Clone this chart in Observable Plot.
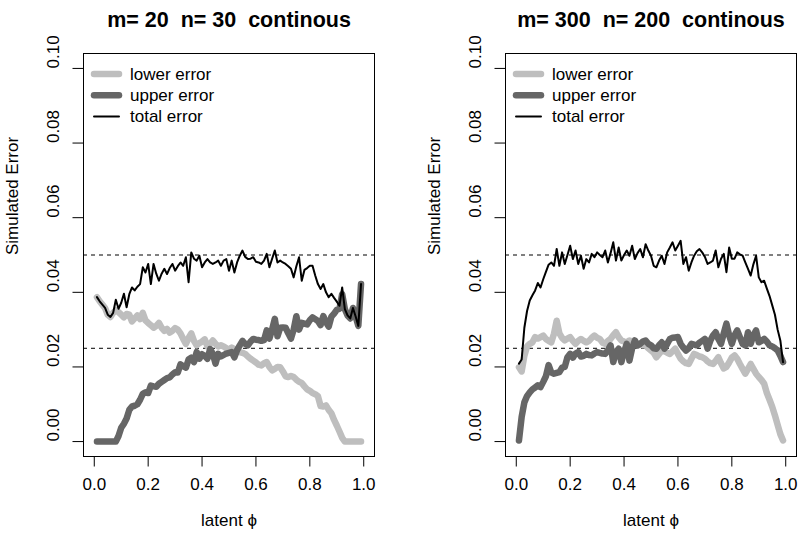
<!DOCTYPE html>
<html>
<head>
<meta charset="utf-8">
<script src="https://cdn.jsdelivr.net/npm/d3@7"></script>
<script src="https://cdn.jsdelivr.net/npm/@observablehq/plot@0.6"></script>
<style>
  html, body { margin: 0; padding: 0; background: white; }
  #wrap { position: relative; width: 800px; height: 539px; overflow: hidden; background: white; }
  #wrap svg { position: absolute; top: 0; }
</style>
</head>
<body>
<div id="wrap"></div>
<script>
// ---- data ----
const phi = [0.01,0.02,0.03,0.04,0.05,0.06,0.07,0.08,0.09,0.10,
0.11,0.12,0.13,0.14,0.15,0.16,0.17,0.18,0.19,0.20,
0.21,0.22,0.23,0.24,0.25,0.26,0.27,0.28,0.29,0.30,
0.31,0.32,0.33,0.34,0.35,0.36,0.37,0.38,0.39,0.40,
0.41,0.42,0.43,0.44,0.45,0.46,0.47,0.48,0.49,0.50,
0.51,0.52,0.53,0.54,0.55,0.56,0.57,0.58,0.59,0.60,
0.61,0.62,0.63,0.64,0.65,0.66,0.67,0.68,0.69,0.70,
0.71,0.72,0.73,0.74,0.75,0.76,0.77,0.78,0.79,0.80,
0.81,0.82,0.83,0.84,0.85,0.86,0.87,0.88,0.89,0.90,
0.91,0.92,0.93,0.94,0.95,0.96,0.97,0.98,0.99];

// Panel 1: m=20, n=30
const lower1 = [0.0387,0.0376,0.0367,0.0358,0.0340,0.0334,0.0345,0.0352,0.0347,0.0340,
0.0333,0.0342,0.0340,0.0322,0.0330,0.0338,0.0328,0.0345,0.0325,0.0318,
0.0312,0.0305,0.0310,0.0318,0.0305,0.0297,0.0302,0.0292,0.0297,0.0304,
0.0300,0.0290,0.0275,0.0262,0.0278,0.0290,0.0270,0.0258,0.0264,0.0268,
0.0274,0.0255,0.0262,0.0271,0.0262,0.0255,0.0258,0.0255,0.0250,0.0248,
0.0252,0.0248,0.0244,0.0240,0.0238,0.0235,0.0228,0.0222,0.0217,0.0212,
0.0206,0.0204,0.0210,0.0213,0.0200,0.0191,0.0195,0.0200,0.0199,0.0188,
0.0175,0.0173,0.0176,0.0173,0.0166,0.0160,0.0157,0.0148,0.0140,0.0136,
0.0130,0.0127,0.0122,0.0095,0.0094,0.0097,0.0085,0.0076,0.0058,0.0043,
0.0027,0.0010,0,0,0,0,0,0,0];
const upper1 = [0,0,0,0,0,0,0,0,0.0015,0.0037,
0.0048,0.0062,0.0085,0.0094,0.0096,0.0100,0.0112,0.0128,0.0132,0.0130,
0.0150,0.0148,0.0147,0.0155,0.0160,0.0165,0.0170,0.0172,0.0180,0.0186,
0.0185,0.0207,0.0202,0.0198,0.0220,0.0225,0.0213,0.0240,0.0222,0.0234,
0.0230,0.0222,0.0248,0.0235,0.0209,0.0235,0.0228,0.0232,0.0236,0.0238,
0.0240,0.0226,0.0245,0.0258,0.0270,0.0262,0.0258,0.0268,0.0275,0.0273,
0.0272,0.0270,0.0272,0.0298,0.0276,0.0300,0.0329,0.0282,0.0305,0.0306,
0.0305,0.0290,0.0276,0.0300,0.0336,0.0300,0.0318,0.0316,0.0314,0.0325,
0.0333,0.0328,0.0323,0.0312,0.0336,0.0320,0.0308,0.0335,0.0343,0.0353,
0.0356,0.0395,0.0355,0.0338,0.0330,0.0358,0.0335,0.0310,0.0422];
const total1 = [0.0387,0.0376,0.0367,0.0358,0.0340,0.0334,0.0345,0.0380,0.0356,0.0372,
0.0396,0.0360,0.0395,0.0413,0.0405,0.0415,0.0422,0.0467,0.0453,0.0476,
0.0422,0.0476,0.0450,0.0431,0.0450,0.0463,0.0449,0.0465,0.0476,0.0458,
0.0470,0.0480,0.0471,0.0494,0.0427,0.0507,0.0490,0.0485,0.0498,0.0467,
0.0480,0.0489,0.0480,0.0476,0.0480,0.0485,0.0471,0.0485,0.0489,0.0458,
0.0485,0.0453,0.0480,0.0498,0.0512,0.0495,0.0489,0.0490,0.0494,0.0482,
0.0480,0.0476,0.0485,0.0503,0.0467,0.0490,0.0512,0.0480,0.0485,0.0480,
0.0476,0.0470,0.0463,0.0440,0.0470,0.0494,0.0431,0.0460,0.0465,0.0471,
0.0471,0.0445,0.0422,0.0409,0.0422,0.0400,0.0387,0.0396,0.0385,0.0375,
0.0364,0.0413,0.0355,0.0338,0.0330,0.0358,0.0335,0.0310,0.0422];

// Panel 2: m=300, n=200
const lower2 = [0.0199,0.0188,0.0230,0.0255,0.0262,0.0266,0.0280,0.0276,0.0280,0.0284,
0.0275,0.0270,0.0266,0.0289,0.0324,0.0290,0.0278,0.0271,0.0276,0.0280,
0.0270,0.0262,0.0270,0.0275,0.0270,0.0266,0.0270,0.0278,0.0284,0.0278,
0.0275,0.0265,0.0262,0.0270,0.0275,0.0285,0.0293,0.0280,0.0271,0.0268,
0.0266,0.0271,0.0268,0.0262,0.0258,0.0260,0.0258,0.0258,0.0250,0.0244,
0.0238,0.0226,0.0235,0.0244,0.0242,0.0238,0.0235,0.0242,0.0249,0.0235,
0.0222,0.0215,0.0210,0.0208,0.0222,0.0235,0.0232,0.0228,0.0226,0.0222,
0.0215,0.0210,0.0208,0.0216,0.0226,0.0210,0.0196,0.0200,0.0212,0.0225,
0.0231,0.0222,0.0208,0.0195,0.0182,0.0195,0.0208,0.0195,0.0182,0.0173,
0.0165,0.0155,0.0130,0.0112,0.0093,0.0070,0.0045,0.0020,0.0003];
const upper2 = [0.0003,0.0066,0.0105,0.0122,0.0132,0.0140,0.0145,0.0151,0.0146,0.0160,
0.0175,0.0205,0.0185,0.0182,0.0184,0.0186,0.0198,0.0200,0.0226,0.0235,
0.0225,0.0236,0.0240,0.0228,0.0230,0.0235,0.0232,0.0231,0.0236,0.0240,
0.0238,0.0236,0.0235,0.0245,0.0258,0.0213,0.0240,0.0249,0.0213,0.0240,
0.0262,0.0217,0.0250,0.0271,0.0258,0.0262,0.0268,0.0271,0.0262,0.0258,
0.0250,0.0249,0.0258,0.0266,0.0249,0.0262,0.0275,0.0278,0.0279,0.0280,
0.0262,0.0252,0.0244,0.0250,0.0262,0.0260,0.0258,0.0265,0.0270,0.0275,
0.0249,0.0270,0.0284,0.0293,0.0275,0.0262,0.0290,0.0316,0.0285,0.0262,
0.0285,0.0298,0.0280,0.0262,0.0258,0.0293,0.0262,0.0285,0.0298,0.0266,
0.0270,0.0275,0.0268,0.0258,0.0255,0.0250,0.0244,0.0230,0.0213];
const total2 = [0.0209,0.0220,0.0305,0.0350,0.0378,0.0392,0.0405,0.0425,0.0413,0.0435,
0.0455,0.0474,0.0480,0.0471,0.0516,0.0471,0.0507,0.0476,0.0500,0.0525,
0.0489,0.0512,0.0476,0.0498,0.0463,0.0489,0.0480,0.0503,0.0494,0.0507,
0.0500,0.0494,0.0512,0.0480,0.0505,0.0534,0.0485,0.0520,0.0485,0.0500,
0.0512,0.0498,0.0525,0.0489,0.0505,0.0516,0.0494,0.0529,0.0512,0.0498,
0.0471,0.0467,0.0485,0.0498,0.0476,0.0507,0.0520,0.0534,0.0512,0.0525,
0.0538,0.0476,0.0494,0.0458,0.0480,0.0498,0.0510,0.0516,0.0507,0.0495,
0.0476,0.0480,0.0485,0.0512,0.0467,0.0490,0.0503,0.0454,0.0520,0.0490,
0.0490,0.0507,0.0502,0.0498,0.0480,0.0463,0.0445,0.0475,0.0498,0.0440,
0.0427,0.0431,0.0410,0.0390,0.0365,0.0340,0.0300,0.0271,0.0213];

const titles = ["m= 20\u00a0 n= 30\u00a0 continous", "m= 300\u00a0 n= 200\u00a0 continous"];
const xTicks = [0, 0.2, 0.4, 0.6, 0.8, 1.0];
const yTicks = [0, 0.02, 0.04, 0.06, 0.08, 0.10];
const refLines = [0.05, 0.025];
const legendLabels = ["lower error", "upper error", "total error"];
const xLabel = "latent \u03d5";
const yLabel = "Simulated Error";

// ---- style ----
const FONT = "'Liberation Sans', Arial, Helvetica, sans-serif";
const LIGHT = "#bebebe";
const DARK = "#666666";
const legendStyles = [
  {stroke: LIGHT, width: 6.5},
  {stroke: DARK, width: 6.5},
  {stroke: "black", width: 2}
];

function panel(cfg) {
  const rows = vals => phi.map((p, i) => ({phi: p, v: vals[i]}));
  const svg = Plot.plot({
    width: 400, height: 539,
    marginLeft: cfg.ml, marginRight: cfg.mr, marginTop: 53, marginBottom: 83,
    x: {domain: [-0.04, 1.04]},
    y: {domain: [-0.004, 0.104]},
    style: {fontFamily: FONT, fontSize: "17px", background: "white", color: "black", overflow: "visible"},
    marks: [
      Plot.ruleY(refLines, {y: d => d, stroke: "black", strokeWidth: 1, strokeDasharray: "4,4"}),
      Plot.line(rows(cfg.lower), {x: "phi", y: "v", stroke: LIGHT, strokeWidth: 6.5, strokeLinejoin: "round", strokeLinecap: "round"}),
      Plot.line(rows(cfg.upper), {x: "phi", y: "v", stroke: DARK, strokeWidth: 6.5, strokeLinejoin: "round", strokeLinecap: "round"}),
      Plot.line(rows(cfg.total), {x: "phi", y: "v", stroke: "black", strokeWidth: 2, strokeLinejoin: "round", strokeLinecap: "round"}),
      Plot.frame({stroke: "black", strokeWidth: 1}),
      Plot.axisX(xTicks, {tickSize: 10.5, tickFormat: () => "", label: null, stroke: "black"}),
      Plot.axisY(yTicks, {tickSize: 10.5, tickFormat: () => "", label: null, stroke: "black"}),
      Plot.text(xTicks, {x: d => d, text: d => d.toFixed(1), frameAnchor: "bottom", dy: 33, fontSize: 17, fill: "black"}),
      Plot.text(yTicks, {y: d => d, text: d => d.toFixed(2), frameAnchor: "left", dx: -30, rotate: -90, fontSize: 17, fill: "black"}),
      Plot.text([xLabel], {text: d => d, frameAnchor: "bottom", dy: 69, fontSize: 17, fill: "black"}),
      Plot.text([yLabel], {text: d => d, frameAnchor: "left", dx: -71, rotate: -90, fontSize: 17, fill: "black"}),
      Plot.text([cfg.title], {text: d => d, frameAnchor: "top", dy: -42, fontSize: 21.5, fontWeight: "bold", fill: "black"})
    ]
  });
  // legend (top-left inside the frame, no box)
  const g = d3.select(svg).append("g")
    .attr("font-family", FONT).attr("font-size", 17)
    .attr("text-anchor", "start");
  legendLabels.forEach((lab, i) => {
    const yy = 53 + 21 + i * 21.2;
    g.append("line")
      .attr("x1", cfg.ml + 11).attr("x2", cfg.ml + 36)
      .attr("y1", yy).attr("y2", yy)
      .attr("stroke", legendStyles[i].stroke)
      .attr("stroke-width", legendStyles[i].width)
      .attr("stroke-linecap", "round");
    g.append("text")
      .attr("x", cfg.ml + 47).attr("y", yy)
      .attr("dy", "0.35em")
      .attr("text-anchor", "start")
      .attr("fill", "black")
      .text(lab);
  });
  svg.style.left = cfg.left + "px";
  return svg;
}

const wrap = document.getElementById("wrap");
wrap.appendChild(panel({left: 0, ml: 83, mr: 26, lower: lower1, upper: upper1, total: total1, title: titles[0]}));
wrap.appendChild(panel({left: 400, ml: 105, mr: 4, lower: lower2, upper: upper2, total: total2, title: titles[1]}));
</script>
</body>
</html>
